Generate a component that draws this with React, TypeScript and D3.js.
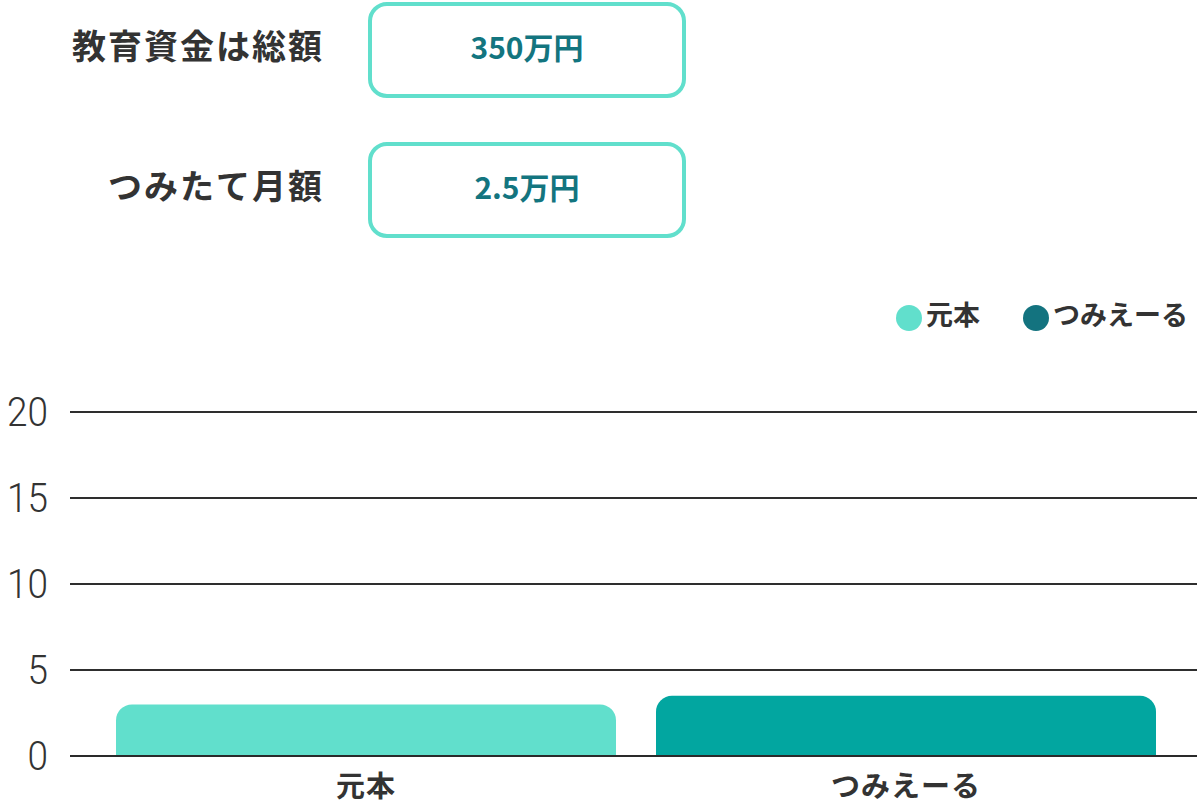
import React from "react";
import * as d3 from "d3";

// chart values
const categories = ["元本", "つみえーる"];
const values = [3.0, 3.5];
const barColors = ["#61dfcc", "#02a6a0"];
const legendColors = ["#61dfcc", "#13737f"];
const yTicks = [0, 5, 10, 15, 20];

const infoLabels = ["教育資金は総額", "つみたて月額"];
const infoValues = ["350万円", "2.5万円"];

const W = 1197;
const H = 804;
const margin = { top: 412, right: 0, bottom: 48, left: 70 };

const textColor = "#333333";
const jpFont = "'Noto Sans CJK JP', 'Noto Sans', sans-serif";

// bar with rounded top corners only
const topRoundedBar = (x: number, y: number, w: number, h: number, r: number) => {
  const rr = Math.min(r, h, w / 2);
  const p = d3.path();
  p.moveTo(x, y + h);
  p.lineTo(x, y + rr);
  p.arcTo(x, y, x + rr, y, rr);
  p.lineTo(x + w - rr, y);
  p.arcTo(x + w, y, x + w, y + rr, rr);
  p.lineTo(x + w, y + h);
  p.closePath();
  return p.toString();
};

const App = () => {
  const innerBottom = H - margin.bottom;

  const yScale = d3.scaleLinear().domain([0, 20]).range([innerBottom, margin.top]);

  const xScale = d3
    .scaleBand()
    .domain(categories)
    .range([96, 1176])
    .paddingInner(40 / 540)
    .paddingOuter(20 / 540);

  const boxY = [2, 142];

  return (
    <svg
      width={W}
      height={H}
      style={{ position: "absolute", left: 0, top: 0, display: "block", background: "#fff" }}
    >
      {/* info rows */}
      {infoLabels.map((label, i) => (
        <g key={label}>
          <text
            x={324}
            y={boxY[i] + 48}
            textAnchor="end"
            dominantBaseline="middle"
            fontFamily={jpFont}
            fontWeight={700}
            fontSize={34}
            letterSpacing={2}
            fill={textColor}
          >
            {label}
          </text>
          <rect
            x={370}
            y={boxY[i] + 2}
            width={314}
            height={92}
            rx={17}
            fill="#fff"
            stroke="#61dfcc"
            strokeWidth={4}
          />
          <text
            x={527}
            y={boxY[i] + 49}
            textAnchor="middle"
            dominantBaseline="middle"
            fontFamily={jpFont}
            fontWeight={600}
            fontSize={30}
            fill="#13757f"
          >
            {infoValues[i]}
          </text>
        </g>
      ))}

      {/* legend */}
      {categories.map((c, i) => {
        const lx = [909, 1036][i];
        return (
          <g key={c}>
            <circle cx={lx} cy={318} r={13} fill={legendColors[i]} />
            <text
              x={lx + 17}
              y={318}
              dominantBaseline="middle"
              fontFamily={jpFont}
              fontWeight={700}
              fontSize={27}
              fill={textColor}
            >
              {c}
            </text>
          </g>
        );
      })}

      {/* grid + y labels */}
      {yTicks.map((t) => (
        <g key={t}>
          <line
            x1={margin.left}
            x2={W}
            y1={yScale(t)}
            y2={yScale(t)}
            stroke="#2e2e2e"
            strokeWidth={2}
          />
          <text
            x={48}
            y={yScale(t)}
            textAnchor="end"
            dominantBaseline="central"
            fontFamily="Roboto, sans-serif"
            fontWeight={300}
            fontSize={41}
            fill={textColor}
            style={{ transform: `scaleX(0.9)`, transformOrigin: `48px ${yScale(t)}px`, transformBox: "view-box" } as any}
          >
            {t}
          </text>
        </g>
      ))}

      {/* bars */}
      {categories.map((c, i) => {
        const x = xScale(c)!;
        const y = yScale(values[i]);
        return (
          <path
            key={c}
            d={topRoundedBar(x, y, xScale.bandwidth(), innerBottom - y, 16)}
            fill={barColors[i]}
          />
        );
      })}
      <line
        x1={margin.left}
        x2={W}
        y1={innerBottom}
        y2={innerBottom}
        stroke="#2a2a2a"
        strokeWidth={2}
      />

      {/* x labels */}
      {categories.map((c) => (
        <text
          key={c}
          x={xScale(c)! + xScale.bandwidth() / 2}
          y={789}
          textAnchor="middle"
          dominantBaseline="middle"
          fontFamily={jpFont}
          fontWeight={700}
          fontSize={29}
          letterSpacing={1}
          fill={textColor}
        >
          {c}
        </text>
      ))}
    </svg>
  );
};

export default App;
